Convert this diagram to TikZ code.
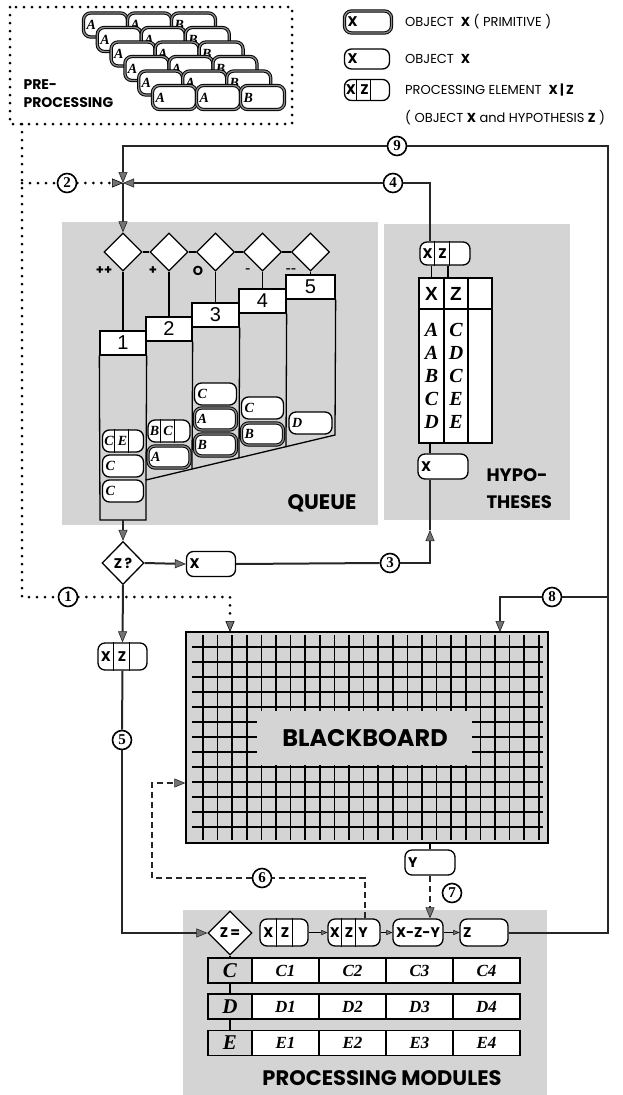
\documentclass[tikz,border=0pt]{standalone}
\usepackage{fontspec}
\setmainfont{Liberation Serif}
\newfontfamily\geofont{Poppins}
\newfontfamily\helvfont{Liberation Sans}
\usetikzlibrary{arrows.meta, shapes.geometric}

% dividing strokes inside a processing element
\newcommand{\pecuts}[3]{%
  \draw[line width=1pt] ([xshift=#2]#1.north west) -- ([xshift=#2]#1.south west)
                        ([xshift=#3]#1.north west) -- ([xshift=#3]#1.south west);}

\begin{document}
\begin{tikzpicture}[
  x=1pt, y=-1pt,
  flow/.style  ={draw=black!85, line width=2pt},
  link/.style  ={draw=black, line width=1.3pt},
  dots/.style  ={draw=black, line width=3pt, line cap=round, dash pattern=on 0pt off 8pt},
  dashln/.style={draw=black!85, line width=1.7pt, dash pattern=on 6pt off 4pt},
  arr/.style   ={-{Triangle[length=11pt, width=9pt, line width=0.6pt, fill=black!55]}},
  sarr/.style  ={-{Triangle[length=6pt, width=5pt, line width=0.5pt, fill=black!55]}},
  num/.style   ={circle, draw, line width=1.6pt, fill=white, inner sep=0pt,
                 minimum size=19pt, font=\fontsize{15}{15}\selectfont\bfseries},
  obj/.style   ={draw, line width=1.3pt, rounded corners=7pt, fill=white,
                 minimum height=23pt, inner ysep=0pt, inner xsep=3pt,
                 text width=40pt, align=left},
  prim/.style  ={obj, line width=1pt, double=black!45, double distance=1.3pt},
  pe/.style    ={obj, inner xsep=0pt},
  itl/.style   ={font=\fontsize{14}{14}\selectfont\bfseries\itshape},
  sfl/.style   ={font=\geofont\fontsize{14}{14}\selectfont\bfseries},
  gate/.style  ={diamond, draw, line width=1.3pt, fill=white, inner sep=0pt,
                 minimum width=38pt, minimum height=38pt},
  hdr/.style   ={draw, line width=1.3pt, fill=white, minimum height=24pt,
                 inner sep=0pt, font=\helvfont\fontsize{20}{20}\selectfont},
  tcell/.style ={draw, line width=1.5pt, fill=white, inner sep=0pt, align=center},
  title/.style ={font=\geofont\fontsize{#1}{#1}\selectfont\bfseries},
  legtxt/.style={anchor=west, inner sep=0pt, font=\geofont\fontsize{13}{13}\selectfont},
  bgfill/.style={fill=black!17},
  bbline/.style={draw=black, line width=1.7pt},
  cell/.style  ={draw, line width=1.4pt, minimum height=25pt, inner sep=0pt,
                 font=\fontsize{17}{17}\selectfont\bfseries\itshape},
]
\useasboundingbox (0,0) rectangle (623,1095);

% =========================== BACKGROUNDS ============================
\fill[bgfill] (62,222) rectangle (378,525);
\fill[bgfill] (384,224) rectangle (570,520);
\fill[bgfill] (183,910) rectangle (547,1095);

% =========================== PRE-PROCESSING =========================
\draw[dots] (10,7) rectangle (292,124);
\foreach \r in {0,...,5}
  \foreach \c/\t in {0/A,1/A,2/B}
    \node[prim, itl, text width=38pt, minimum height=24pt] (pp\r\c)
      at (105.5+13.8*\r+44*\c, 25+14.5*\r) {\t};
\node[title=14, anchor=west, align=left] (pretxt) at (20,94) {PRE-\\[4pt]PROCESSING};

% =========================== LEGEND =================================
\node[prim, sfl, text width=41pt, minimum height=22pt] (lg1) at (368,22) {X};
\node[obj, sfl, text width=39pt, minimum height=20pt] (lg2) at (367,59) {X};
\node[pe, sfl, text width=45pt, minimum height=21pt] (lg3) at (367,90)
  {\makebox[13pt]{X}\makebox[14pt]{Z}};
\pecuts{lg3}{13pt}{27pt}
\node[legtxt] (lt1) at (405,22) {OBJECT \ \textbf{X} ( PRIMITIVE )};
\node[legtxt] (lt2) at (405,59) {OBJECT \ \textbf{X}};
\node[legtxt] (lt3) at (405,90) {PROCESSING ELEMENT \ \textbf{X\,|\,Z}};
\node[legtxt] (lt4) at (405,118) {( OBJECT \textbf{X} and HYPOTHESIS \textbf{Z} )};

% =========================== QUEUE ==================================
\coordinate (jn) at (123,183);
\node[gate] (d1) at (123,252) {};
\node[gate] (d2) at (169,252) {};
\node[gate] (d3) at (215.5,252) {};
\node[gate] (d4) at (262.5,252) {};
\node[gate] (d5) at (310.5,252) {};
\draw[link] (d1.east) -- (d2.west);
\draw[link] (d2.east) -- (d3.west);
\draw[link] (d3.east) -- (d4.west);
\draw[link] (d4.east) -- (d5.west);
\node[title=13] (s1) at (104,271) {++};
\node[title=13] (s2) at (153,271) {+};
\node[title=13] (s3) at (198,271) {O};
\node[title=9]  (s4) at (248,271) {-};
\node[title=9]  (s5) at (291,271) {-{}-};

\node[hdr, minimum width=46pt] (c1) at (123,343) {1};
\node[hdr, minimum width=46pt] (c2) at (169,329) {2};
\node[hdr, minimum width=47pt] (c3) at (215.5,315) {3};
\node[hdr, minimum width=47pt] (c4) at (262.5,301) {4};
\node[hdr, minimum width=49pt] (c5) at (310.5,287) {5};
\draw[link] (d1.south) -- (c1.north);
\draw[link] (d2.south) -- (c2.north);
\draw[link] (d3.south) -- (c3.north);
\draw[link] (d4.south) -- (c4.north);
\draw[link] (d5.south) -- (c5.north);

% column bodies, cut off by the slanted floor
\coordinate (q1bot) at (123,520);
\draw[link] (c1.south west) -- (100,520) -- (146,520) -- (146,480) -- (335,435) -- (c5.south east);
\draw[link] (c1.south east) -- (146,480);
\draw[link] (c2.south east) -- (192,469);
\draw[link] (c3.south east) -- (239,458);
\draw[link] (c4.south east) -- (286,447);

% queued objects
\node[pe, itl, text width=41pt, minimum height=22pt] (q1a) at (123,441) {\makebox[13pt]{C}\makebox[14pt]{E}};
\pecuts{q1a}{13pt}{27pt}
\node[obj, itl, text width=35pt, minimum height=22pt] (q1b) at (123,466) {C};
\node[obj, itl, text width=35pt, minimum height=22pt] (q1c) at (123,491) {C};
\node[pe, itl, text width=42pt, minimum height=22pt] (q2a) at (169,431) {\makebox[13pt]{B}\makebox[14pt]{C}};
\pecuts{q2a}{13pt}{27pt}
\node[prim, itl, text width=36pt, minimum height=22pt] (q2b) at (169,457) {A};
\node[obj, itl, text width=36pt, minimum height=22pt] (q3a) at (215.5,394) {C};
\node[prim, itl, text width=36pt, minimum height=22pt] (q3b) at (215.5,419) {A};
\node[prim, itl, text width=36pt, minimum height=22pt] (q3c) at (215.5,445) {B};
\node[obj, itl, text width=36pt, minimum height=22pt] (q4a) at (262.5,408) {C};
\node[prim, itl, text width=36pt, minimum height=22pt] (q4b) at (262.5,434) {B};
\node[obj, itl, text width=37pt, minimum height=22pt] (q5a) at (310.5,423) {D};
\node[title=21] (qlab) at (322,503) {QUEUE};

% =========================== HYPOTHESES =============================
\node[pe, sfl, text width=50pt] (hpe) at (445,253.5) {\makebox[15pt]{X}\makebox[15pt]{Z}};
\pecuts{hpe}{15pt}{30pt}
\node[tcell, minimum width=25pt, minimum height=31pt,
      font=\helvfont\bfseries\fontsize{19}{19}\selectfont] (hX) at (431.5,293.5) {X};
\node[tcell, minimum width=24pt, minimum height=31pt,
      font=\helvfont\bfseries\fontsize{19}{19}\selectfont] (hZ) at (456,293.5) {Z};
\node[tcell, minimum width=24pt, minimum height=31pt] (hE) at (480,293.5) {};
\node[tcell, minimum width=25pt, minimum height=134pt,
      font=\fontsize{20}{23}\selectfont\bfseries\itshape] (bX) at (431.5,376) {A\\A\\B\\C\\D};
\node[tcell, minimum width=24pt, minimum height=134pt,
      font=\fontsize{20}{23}\selectfont\bfseries\itshape] (bZ) at (456,376) {C\\D\\C\\E\\E};
\node[tcell, minimum width=24pt, minimum height=134pt] (bE) at (480,376) {};
\draw[link] (hX.north) -- (hX.north |- hpe.south);
\draw[link] ([xshift=-8pt]hZ.north) -- ([xshift=-8pt]hZ.north |- hpe.south);
\node[obj, sfl, text width=44pt, minimum height=25pt] (hx) at (443,466.5) {X};
\draw[link] ([xshift=-13pt]hx.north) -- ([xshift=-13pt]hx.north |- bX.south);
\node[title=18, anchor=west, align=left] (hlab) at (483,489) {HYPO-\\[9pt]THESES};

% =========================== DECISION Z? ============================
\node[gate, minimum width=42pt, minimum height=43pt, sfl] (zq) at (123,563) {Z\,?};
\node[obj, sfl, text width=43pt, minimum height=25pt] (zx) at (211,564) {X};
\node[pe, sfl, text width=49pt, minimum height=27pt] (xz) at (122.5,656.5)
  {\makebox[16pt]{X}\makebox[16pt]{Z}};
\pecuts{xz}{16pt}{32pt}

% =========================== BLACKBOARD =============================
\node[draw, line width=1.5pt, bgfill, minimum width=362pt, minimum height=211pt] (bb) at (367,737.5) {};
\foreach \k in {0,...,12}
  \draw[bbline] (192,647+15*\k) -- (543,647+15*\k);
\foreach \k in {0,...,23}
  \draw[bbline] (203+14.6*\k,635) -- (203+14.6*\k,840);
\fill[bgfill] (257,711) rectangle (472,765);
\node[title=24] (bblab) at (365,738) {BLACKBOARD};
\node[obj, sfl, text width=44pt, minimum height=25pt] (yo) at (430,862.5) {Y};
\draw[link] (yo.north) -- (yo.north |- bb.south);

% =========================== PROCESSING =============================
\node[gate, minimum width=44pt, minimum height=44pt, sfl] (zeq) at (230,933) {Z\,=};
\node[pe, sfl, text width=48pt, minimum height=27pt] (pxz) at (284,932.5)
  {\makebox[17pt]{X}\makebox[16pt]{Z}};
\pecuts{pxz}{17pt}{33pt}
\node[pe, sfl, text width=52pt, minimum height=27pt] (pxzy) at (354,932.5)
  {\makebox[14pt]{X}\makebox[14pt]{Z}\makebox[14pt]{Y}};
\pecuts{pxzy}{14pt}{28pt}
\node[obj, sfl, text width=44pt, minimum height=27pt, align=center] (xzy) at (418,932.5) {X-Z-Y};
\node[obj, sfl, text width=42pt, minimum height=27pt] (zo) at (484,932.5) {Z};
\draw[link, sarr] (pxz.east) -- (pxzy.west);
\draw[link, sarr] (pxzy.east) -- (xzy.west);
\draw[link, sarr] (xzy.east) -- (zo.west);

\foreach \r/\y in {C/970.5, D/1006.5, E/1043} {
  \node[cell, fill=black!17, minimum width=44pt,
        font=\fontsize{21}{21}\selectfont\bfseries\itshape] (m\r) at (230,\y) {\r};
  \foreach \k/\x in {1/285.5, 2/352.5, 3/419.5, 4/486.5}
    \node[cell, fill=white, minimum width=67pt] (m\r\k) at (\x,\y) {\r\k};
}
\draw[link] (zeq.south) -- (mC.north);
\draw[link] (mC.south) -- (mD.north);
\draw[link] (mD.south) -- (mE.north);
\node[title=21] (pmlab) at (382,1078) {PROCESSING MODULES};

% =========================== NUMBERED PATHS =========================
\node[num] (n1) at (68,597) {1};
\node[num] (n2) at (67,183) {2};
\node[num] (n3) at (390,563) {3};
\node[num] (n4) at (393,183) {4};
\node[num] (n5) at (122,740) {5};
\node[num] (n6) at (262,878) {6};
\node[num] (n7) at (452,893) {7};
\node[num] (n8) at (552,597) {8};
\node[num] (n9) at (397,146) {9};

\coordinate (pv0) at (22,124);
\coordinate (pv1) at (22,597);
\coordinate (pv2) at (22,183);
\coordinate (c9)  at (608,146);
\coordinate (r8)  at (608,597);
\coordinate (up3) at (430,530);
\coordinate (bbin1) at (230,632);
\coordinate (bbin8) at (500,632);
\coordinate (d6b) at (152,783);

% dotted: pre-processing feeds
\draw[dots] (pv0) -- (pv1) -- (n1.west);
\draw[dots, arr] (n1.east) -| (bbin1);
\draw[dots] (pv2) -- (n2.west);
\draw[dots, arr] (n2.east) -- (jn);

% solid loops back into the queue
\draw[flow] (zo.east) -| (c9) -- (n9.east);
\draw[flow, arr] (n9.west) -| (jn);
\draw[flow] ([xshift=-15pt]hpe.north) |- (n4.east);
\draw[flow, arr] (n4.west) -- (jn);
\draw[flow, arr] (jn) -- (d1.north);
\draw[flow] (r8) -- (n8.east);
\draw[flow, arr] (n8.west) -| (bbin8);

% queue -> decision -> hypotheses / processing
\draw[flow, arr] (q1bot) -- (zq.north);
\draw[flow, arr] (zq.east) -- (zx.west);
\draw[flow] (zx.east) -- (n3.west);
\draw[flow, arr] (n3.east) -| (up3);
\draw[flow] (up3) -- (up3 |- hx.south);
\draw[flow, arr] (zq.south) -- (xz.north);
\draw[flow] (xz.south) -- (n5.north);
\draw[flow, arr] (n5.south) |- (zeq.west);

% dashed: blackboard access
\draw[dashln] ([xshift=11pt]pxzy.north) |- (n6.east);
\draw[dashln, arr] (n6.west) -| (d6b) -- (d6b -| bb.west);
\draw[dashln, arr] (yo.south) -- (yo.south |- xzy.north);

\end{tikzpicture}
\end{document}
